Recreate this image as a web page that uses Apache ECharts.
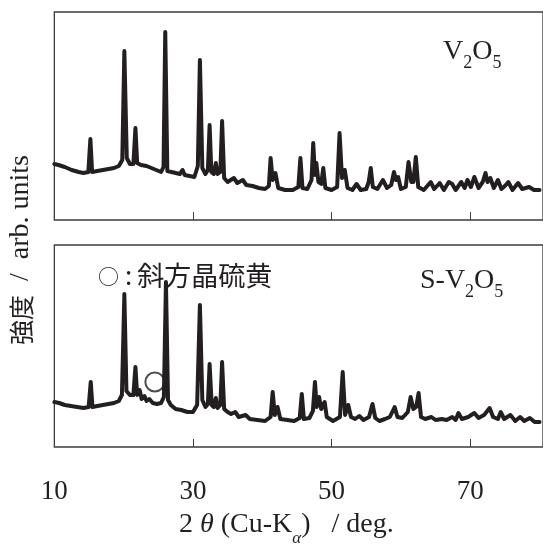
<!DOCTYPE html>
<html>
<head>
<meta charset="utf-8">
<script src="https://cdn.jsdelivr.net/npm/echarts@6/dist/echarts.min.js"></script>
<style>
  html, body { margin: 0; padding: 0; background: #ffffff; }
  #chart { width: 543px; height: 544px; }
</style>
</head>
<body>
<div id="chart"></div>
<script>
// XRD patterns: [2θ (deg), intensity (counts)]
const v2o5Pattern = [
  [10.0, 560], [10.6, 550], [11.5, 530], [12.5, 500], [13.5, 480], [14.2, 470], [14.9, 480],
  [15.2, 810], [15.45, 480], [16.2, 490], [17.0, 500], [17.8, 510], [18.6, 520], [19.3, 540],
  [19.8, 600], [20.1, 1690], [20.45, 620], [20.9, 560], [21.4, 560], [21.7, 920], [21.95, 570],
  [22.5, 550], [23.3, 540], [24.0, 520], [24.7, 500], [25.4, 480], [25.75, 530], [26.0, 1880],
  [26.3, 490], [26.9, 480], [27.5, 470], [28.1, 460], [28.5, 500], [28.8, 450], [29.5, 440],
  [30.2, 430], [30.7, 540], [31.0, 1600], [31.35, 520], [31.8, 460], [32.15, 500], [32.4, 950],
  [32.65, 480], [33.0, 460], [33.3, 570], [33.55, 460], [33.95, 480], [34.2, 990], [34.5, 420],
  [35.0, 380], [35.9, 420], [36.4, 370], [37.2, 400], [37.7, 350], [38.6, 340], [39.5, 320],
  [40.4, 310], [40.95, 340], [41.2, 620], [41.5, 400], [41.9, 470], [42.3, 320], [43.3, 300],
  [44.4, 300], [45.2, 330], [45.5, 620], [45.8, 320], [46.5, 310], [47.1, 400], [47.35, 770],
  [47.6, 450], [47.8, 570], [48.1, 380], [48.5, 360], [48.8, 520], [49.1, 320], [50.0, 300],
  [50.8, 330], [51.15, 870], [51.5, 420], [51.9, 500], [52.3, 320], [53.0, 300], [53.6, 360],
  [54.2, 300], [55.0, 310], [55.35, 380], [55.65, 520], [55.95, 330], [56.6, 310], [57.4, 400],
  [58.0, 320], [58.6, 350], [59.0, 480], [59.3, 400], [59.6, 430], [60.0, 310], [60.7, 330],
  [61.1, 580], [61.5, 380], [61.8, 380], [62.15, 630], [62.5, 330], [63.3, 300], [64.3, 380],
  [64.8, 310], [65.6, 370], [66.2, 300], [66.9, 380], [67.4, 360], [67.9, 300], [68.7, 380],
  [69.2, 320], [69.6, 400], [70.1, 330], [70.6, 430], [71.2, 320], [71.8, 380], [72.2, 470],
  [72.5, 380], [72.9, 420], [73.4, 320], [74.0, 400], [74.5, 310], [75.0, 340], [75.5, 380],
  [76.1, 300], [76.9, 370], [77.5, 310], [78.5, 330], [79.2, 300], [80.0, 300]
];

const sV2o5Pattern = [
  [10.0, 450], [10.7, 440], [11.5, 420], [12.4, 410], [13.3, 400], [14.2, 390], [14.95, 400],
  [15.25, 650], [15.5, 400], [16.2, 410], [17.0, 420], [17.8, 430], [18.6, 440], [19.3, 460],
  [19.75, 520], [20.1, 1530], [20.4, 560], [20.9, 520], [21.4, 520], [21.7, 800], [21.95, 520],
  [22.3, 570], [22.6, 480], [23.0, 510], [23.3, 460], [23.7, 480], [24.2, 440], [24.8, 430],
  [25.4, 440], [25.8, 500], [26.1, 1650], [26.4, 470], [26.8, 420], [27.5, 380], [28.3, 370],
  [29.2, 350], [30.0, 350], [30.6, 420], [31.0, 1420], [31.35, 470], [31.8, 400], [32.15, 430],
  [32.4, 830], [32.7, 420], [33.0, 400], [33.3, 490], [33.55, 390], [33.95, 420], [34.2, 850],
  [34.5, 380], [35.0, 350], [35.5, 330], [36.1, 350], [36.6, 300], [37.6, 320], [38.2, 280],
  [39.3, 270], [40.4, 260], [41.2, 300], [41.5, 550], [41.8, 320], [42.2, 400], [42.6, 280],
  [43.6, 270], [44.6, 260], [45.4, 290], [45.7, 530], [46.0, 280], [46.8, 290], [47.3, 360],
  [47.6, 650], [47.85, 400], [48.2, 500], [48.5, 380], [49.0, 450], [49.3, 300], [50.2, 260],
  [51.2, 300], [51.6, 750], [51.95, 320], [52.4, 420], [52.8, 300], [53.4, 280], [54.0, 310],
  [54.6, 270], [55.4, 300], [55.9, 430], [56.3, 290], [56.9, 260], [57.7, 280], [58.4, 300],
  [59.1, 400], [59.5, 300], [60.2, 290], [61.0, 350], [61.4, 500], [61.8, 380], [62.2, 400],
  [62.55, 540], [62.9, 300], [63.5, 280], [64.4, 300], [65.0, 270], [65.9, 280], [66.6, 270],
  [67.4, 300], [67.9, 270], [68.3, 340], [68.8, 280], [69.7, 300], [70.6, 340], [71.2, 290],
  [72.0, 320], [72.8, 390], [73.3, 300], [74.0, 280], [74.4, 350], [74.9, 280], [75.8, 320],
  [76.5, 260], [77.2, 300], [77.8, 260], [78.6, 290], [79.3, 250], [80.0, 250]
];

// orthorhombic sulfur reflection marker in the S-V2O5 pattern
const sulfurMarks = [[24.5, 650]];

const xTickValues = [30, 50, 70];
const xLabelValues = [10, 30, 50, 70];

const INK = '#231f20';
const FRAME = '#3c3c3c';
const SERIF = '"Liberation Serif", "DejaVu Serif", serif';
const CJK = '"Noto Sans CJK JP", "Noto Sans", sans-serif';

const chart = echarts.init(document.getElementById('chart'), null, { renderer: 'canvas' });

function xAxisFor(gridIndex, withLabels) {
  return {
    type: 'value', gridIndex: gridIndex, min: 10, max: 80.5,
    axisLine: { show: false },
    splitLine: { show: false },
    axisTick: {
      show: true, inside: true, length: 8, customValues: xTickValues,
      lineStyle: { color: FRAME, width: 1 }
    },
    axisLabel: withLabels ? {
      show: true, customValues: xLabelValues, margin: 31,
      fontFamily: SERIF, fontSize: 27, color: INK
    } : { show: false }
  };
}

function yAxisFor(gridIndex, max) {
  return {
    type: 'value', gridIndex: gridIndex, min: 0, max: max,
    axisLine: { show: false }, axisTick: { show: false },
    axisLabel: { show: false }, splitLine: { show: false }
  };
}

const patternLine = (data, idx) => ({
  type: 'line', xAxisIndex: idx, yAxisIndex: idx, data: data,
  showSymbol: false, symbol: 'none', animation: false, clip: true,
  lineStyle: { color: INK, width: 4, join: 'round', cap: 'round' }
});

// chemical formula with lowered subscripts
const formulaRich = {
  m: { fontFamily: SERIF, fontSize: 28, lineHeight: 34, verticalAlign: 'top', fill: INK },
  s: { fontFamily: SERIF, fontSize: 18, verticalAlign: 'bottom', fill: INK }
};

chart.setOption({
  animation: false,
  backgroundColor: '#ffffff',
  grid: [
    { left: 54.35, top: 12, width: 492.1, height: 208, show: true,
      borderColor: FRAME, borderWidth: 1.3, backgroundColor: 'transparent' },
    { left: 54.35, top: 245, width: 492.1, height: 202, show: true,
      borderColor: FRAME, borderWidth: 1.3, backgroundColor: 'transparent' }
  ],
  xAxis: [xAxisFor(0, false), xAxisFor(1, true)],
  yAxis: [yAxisFor(0, 2080), yAxisFor(1, 2020)],
  series: [
    patternLine(v2o5Pattern, 0),
    patternLine(sV2o5Pattern, 1),
    {
      type: 'scatter', xAxisIndex: 1, yAxisIndex: 1, data: sulfurMarks,
      symbol: 'circle', symbolSize: 19, z: 5,
      itemStyle: { color: 'rgba(255,255,255,0)', borderColor: INK, borderWidth: 2 }
    }
  ],
  graphic: [
    {
      type: 'text', left: 443, top: 38,
      style: { text: '{m|V}{s|2}{m|O}{s|5}', rich: formulaRich }
    },
    {
      type: 'text', left: 420, top: 267,
      style: { text: '{m|S-V}{s|2}{m|O}{s|5}', rich: formulaRich }
    },
    {
      type: 'text', left: 98, top: 262,
      style: {
        text: '{o|○}{c|:}{k|斜方晶硫黄}',
        rich: {
          o: { fontFamily: CJK, fontSize: 21, fill: INK, padding: [2, 6, 0, 0] },
          c: { fontFamily: CJK, fontSize: 26, fill: INK, padding: [0, 5, 0, 0] },
          k: { fontFamily: CJK, fontSize: 27, fill: INK }
        }
      }
    },
    {
      type: 'text', left: 179, top: 511,
      style: {
        text: '{m|2 }{th|θ}{m| (Cu-K}{s|α}{m|)   / deg.}',
        rich: {
          m: { fontFamily: SERIF, fontSize: 28, lineHeight: 36, verticalAlign: 'top', fill: INK },
          th: { fontFamily: SERIF, fontSize: 28, fontStyle: 'italic', verticalAlign: 'top', fill: INK },
          s: { fontFamily: SERIF, fontSize: 17, fontStyle: 'italic', verticalAlign: 'bottom', fill: INK }
        }
      }
    },
    {
      type: 'text', x: 21, y: 250, rotation: Math.PI / 2,
      style: {
        text: '{c|強度}{l|  /  arb. units}',
        align: 'center', verticalAlign: 'middle',
        rich: {
          c: { fontFamily: CJK, fontSize: 25, fill: INK },
          l: { fontFamily: SERIF, fontSize: 28, fill: INK }
        }
      }
    }
  ]
});
</script>
</body>
</html>
